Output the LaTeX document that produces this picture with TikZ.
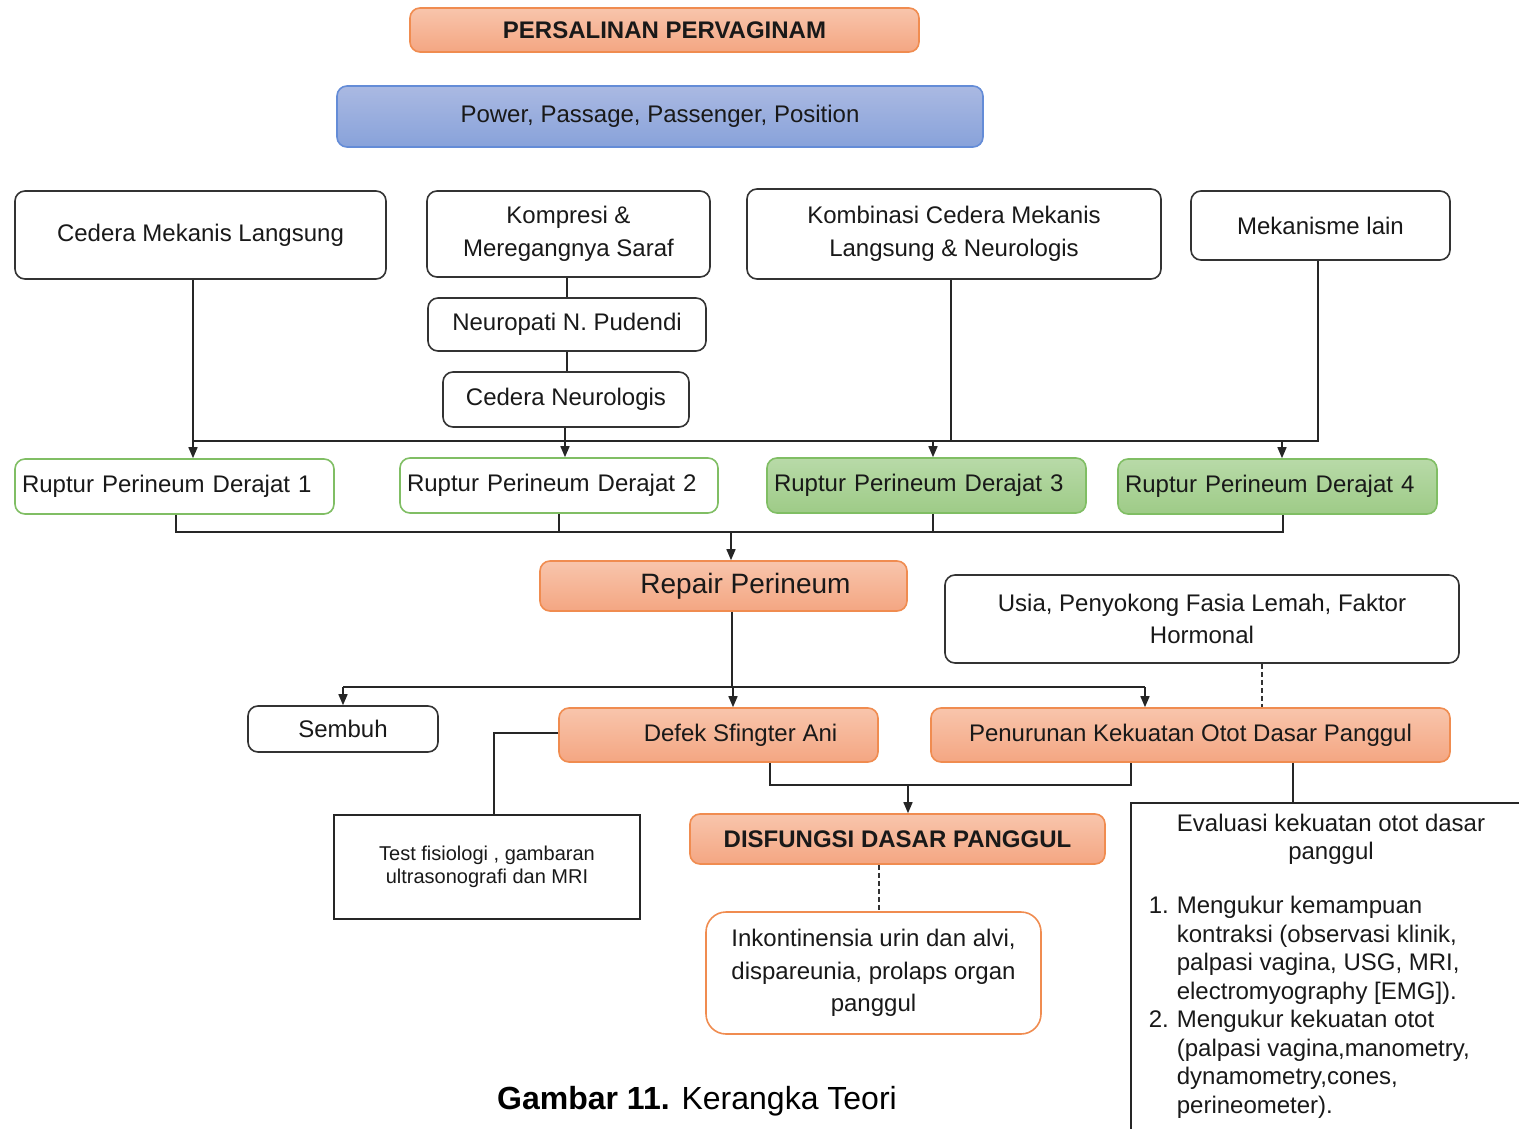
\documentclass[tikz,border=0pt]{standalone}
\usepackage{fontspec}
\setmainfont{Liberation Sans}
\usetikzlibrary{arrows.meta}

\definecolor{orTop}{RGB}{248,197,172}
\definecolor{orBot}{RGB}{244,166,130}
\definecolor{orLine}{RGB}{240,140,80}
\definecolor{grTop}{RGB}{184,218,168}
\definecolor{grBot}{RGB}{158,203,135}
\definecolor{grLine}{RGB}{128,190,100}
\definecolor{blTop}{RGB}{170,185,226}
\definecolor{blBot}{RGB}{136,162,218}
\definecolor{blLine}{RGB}{100,140,215}
\definecolor{inkc}{RGB}{25,25,25}

\tikzset{
  base/.style={rounded corners=10pt, line width=1.6pt, inner sep=0pt, align=center,
    font=\fontsize{24}{33}\selectfont, text=inkc},
  wbox/.style={base, draw=black!80, fill=white},
  obox/.style={base, draw=orLine, top color=orTop, bottom color=orBot},
  gwbox/.style={base, draw=grLine, fill=white},
  gbox/.style={base, draw=grLine, top color=grTop, bottom color=grBot},
  bbox/.style={base, draw=blLine, top color=blTop, bottom color=blBot},
  sqbox/.style={base, rounded corners=0pt, draw=black!85, fill=white},
  conn/.style={line width=1.5pt, draw=black!85},
  arr/.style={conn, -{Triangle[length=11pt,width=9pt]}},
  dconn/.style={line width=1.3pt, draw=black!80, dash pattern=on 5pt off 3pt},
}

\begin{document}
\begin{tikzpicture}[x=1pt,y=-1pt]
\useasboundingbox (0,0) rectangle (1519,1129);

% top
\node[obox, minimum width=509pt, minimum height=44pt, font=\bfseries\fontsize{24}{33}\selectfont] (T) at (664.5,30) {PERSALINAN PERVAGINAM};
\node[bbox, minimum width=646pt, minimum height=61pt] (P) at (660,116.5) {Power, Passage, Passenger, Position};

% row 1
\node[wbox, minimum width=371pt, minimum height=88pt] (A) at (200.5,235) {Cedera Mekanis Langsung};
\node[wbox, minimum width=283pt, minimum height=86pt] (B) at (568.5,234) {Kompresi \&\\Meregangnya Saraf};
\node[wbox, minimum width=414pt, minimum height=90pt] (C) at (954,234) {Kombinasi Cedera Mekanis\\Langsung \& Neurologis};
\node[wbox, minimum width=259pt, minimum height=69pt] (D) at (1320.5,225.5) {Mekanisme lain};
\node[wbox, minimum width=278pt, minimum height=53pt] (NP) at (567,324.5) {Neuropati N. Pudendi};
\node[wbox, minimum width=246pt, minimum height=55pt] (CN) at (566,399.5) {Cedera Neurologis};

% ruptur row
\node[gwbox, minimum width=319pt, minimum height=55pt, text width=305pt, align=left] (R1) at (174.5,486.5) {Ruptur Perineum Derajat 1};
\node[gwbox, minimum width=318pt, minimum height=55pt, text width=304pt, align=left] (R2) at (559,485.5) {Ruptur Perineum Derajat 2};
\node[gbox, minimum width=319pt, minimum height=55pt, text width=305pt, align=left] (R3) at (926.5,485.5) {Ruptur Perineum Derajat 3};
\node[gbox, minimum width=319pt, minimum height=55pt, text width=305pt, align=left] (R4) at (1277.5,486.5) {Ruptur Perineum Derajat 4};

% repair level
\node[obox, minimum width=367pt, minimum height=50pt, font=\fontsize{28}{33}\selectfont] (RP) at (723.5,586) {\hspace*{44pt}Repair Perineum};
\node[wbox, minimum width=514pt, minimum height=88pt, font=\fontsize{24}{32}\selectfont] (U) at (1202,619) {Usia, Penyokong Fasia Lemah, Faktor\\Hormonal};

\node[wbox, minimum width=190pt, minimum height=46pt] (S) at (343,729) {Sembuh};
\node[obox, minimum width=319pt, minimum height=54pt] (DF) at (718.5,735) {\hspace*{44pt}Defek Sfingter Ani};
\node[obox, minimum width=519pt, minimum height=54pt] (PN) at (1190.5,735) {Penurunan Kekuatan Otot Dasar Panggul};

\node[sqbox, minimum width=306pt, minimum height=104pt, font=\fontsize{20}{23}\selectfont] (TS) at (487,867) {Test fisiologi , gambaran\\ultrasonografi dan MRI};
\node[obox, minimum width=415pt, minimum height=50pt, font=\bfseries\fontsize{24}{33}\selectfont] (DS) at (897.5,839) {DISFUNGSI DASAR PANGGUL};
\node[base, draw=orLine, fill=white, rounded corners=20pt, minimum width=335pt, minimum height=122pt, font=\fontsize{24}{32.5}\selectfont] (IK) at (873.5,973) {Inkontinensia urin dan alvi,\\dispareunia, prolaps organ\\panggul};

% evaluation box (cut by the page edge)
\coordinate (EVtl) at (1131,803);
\draw[conn] (1131,1140) -- (EVtl) -- (1530,803);
\node[base, font=\fontsize{24}{28}\selectfont] (EVH) at (1331,839) {Evaluasi kekuatan otot dasar\\panggul};
\node[base, anchor=north west, align=left, font=\fontsize{24}{28.5}\selectfont] (EVL) at (1148,893) {%
\begin{tabular}{@{}l@{\hspace{8pt}}l@{}}
1. & Mengukur kemampuan\\
   & kontraksi (observasi klinik,\\
   & palpasi vagina, USG, MRI,\\
   & electromyography [EMG]).\\
2. & Mengukur kekuatan otot\\
   & (palpasi vagina,manometry,\\
   & dynamometry,cones,\\
   & perineometer).
\end{tabular}};

% caption
\node[base, font=\fontsize{32}{36}\selectfont, text=black] (CAP) at (697,1101) {\textbf{Gambar 11.} Kerangka Teori};

% ---- connectors: upper bus
\coordinate (xa) at (193,441);
\coordinate (xb) at (567,441);
\coordinate (xc) at (565,441);
\coordinate (xd) at (951,441);
\coordinate (xe) at (1318,441);
\coordinate (x3) at (933,441);
\coordinate (x4) at (1282,441);
\draw[arr] (A.south -| xa) -- (R1.north -| xa);
\draw[conn] (B.south -| xb) -- (NP.north -| xb);
\draw[conn] (NP.south -| xb) -- (CN.north -| xb);
\draw[arr] (CN.south -| xc) -- (R2.north -| xc);
\draw[conn] (C.south -| xd) -- (xd);
\draw[conn] (D.south -| xe) -- (xe) -- (xa);
\draw[arr] (x3) -- (R3.north -| x3);
\draw[arr] (x4) -- (R4.north -| x4);

% lower bus to repair
\coordinate (y1) at (176,532);
\coordinate (y2) at (559,532);
\coordinate (y3) at (933,532);
\coordinate (y4) at (1283,532);
\coordinate (ym) at (731,532);
\draw[conn] (R1.south -| y1) -- (y1) -- (y4) -- (R4.south -| y4);
\draw[conn] (R2.south -| y2) -- (y2);
\draw[conn] (R3.south -| y3) -- (y3);
\draw[arr] (ym) -- (RP.north -| ym);

% repair to outcomes
\coordinate (zm) at (732,687);
\coordinate (zl) at (343,687);
\coordinate (zr) at (1145,687);
\coordinate (zd) at (733,687);
\draw[conn] (RP.south -| zm) -- (zm);
\draw[conn] (zl) -- (zr);
\draw[arr] (zl) -- (S.north -| zl);
\draw[arr] (zd) -- (DF.north -| zd);
\draw[arr] (zr) -- (PN.north -| zr);

\coordinate (ux) at (1262,0);
\draw[dconn] (U.south -| ux) -- (PN.north -| ux);

\draw[conn] ([yshift=2pt]DF.west) -| ([xshift=7pt]TS.north);

\coordinate (w1) at (770,785);
\coordinate (w2) at (1131,785);
\coordinate (w3) at (908,785);
\draw[conn] (DF.south -| w1) -- (w1) -- (w2) -- (PN.south -| w2);
\draw[arr] (w3) -- (DS.north -| w3);

\coordinate (vx) at (879,0);
\draw[dconn] (DS.south -| vx) -- (IK.north -| vx);

\coordinate (e1) at (1293,803);
\draw[conn] (PN.south -| e1) -- (e1);
\end{tikzpicture}
\end{document}
